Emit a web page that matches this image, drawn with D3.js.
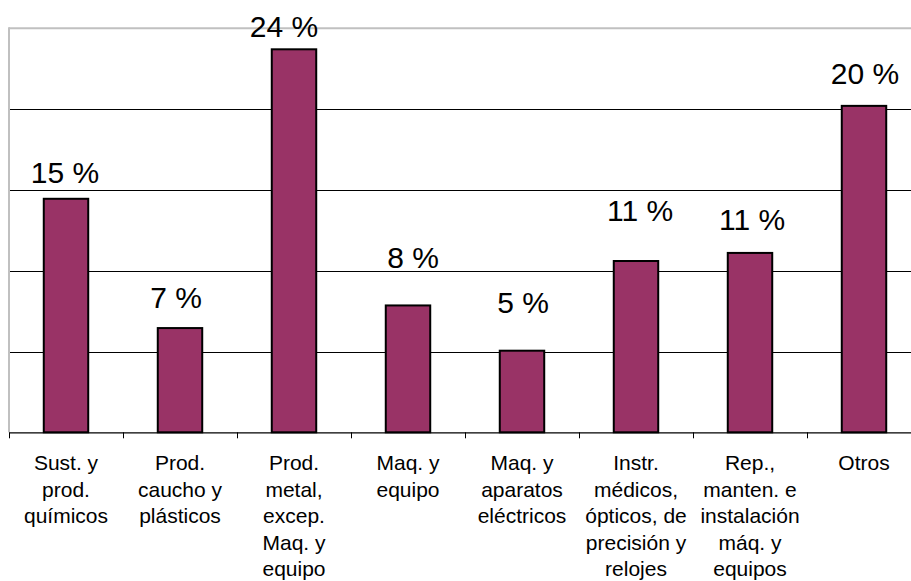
<!DOCTYPE html>
<html>
<head>
<meta charset="utf-8">
<script src="https://cdn.jsdelivr.net/npm/d3@7"></script>
<style>
  html, body { margin: 0; padding: 0; background: #fff; }
  svg { display: block; font-family: "Liberation Sans", Arial, sans-serif; }
</style>
</head>
<body>
<svg id="chart" width="911" height="581"></svg>
<script>
// ---- data ----
const categories = [
  "Sust. y\nprod.\nquímicos",
  "Prod.\ncaucho y\nplásticos",
  "Prod.\nmetal,\nexcep.\nMaq. y\nequipo",
  "Maq. y\nequipo",
  "Maq. y\naparatos\neléctricos",
  "Instr.\nmédicos,\nópticos, de\nprecisión y\nrelojes",
  "Rep.,\nmanten. e\ninstalación\nmáq. y\nequipos",
  "Otros"
];
const values = [14.45, 6.45, 23.7, 7.85, 5.05, 10.6, 11.1, 20.2];
const valueLabels = ["15 %", "7 %", "24 %", "8 %", "5 %", "11 %", "11 %", "20 %"];
const yTicks = [0, 5, 10, 15, 20, 25];

// ---- layout (label nudges, px: dx, gap above bar) ----
const labelDx  = [-1, -4, -10, 5, 1, 4, 2, 1];
const labelGap = [15, 19, 11, 36, 37, 39, 22, 21];

(function () {
const svg = d3.select("#chart");
const mLeft = 9, mRight = 921, mTop = 28.3, mBottom = 432.3;

const x = d3.scaleBand().domain(d3.range(categories.length)).range([mLeft, mRight]).padding(0);
const y = d3.scaleLinear().domain([0, 25]).range([mBottom, mTop]);

// gridlines
svg.append("g").selectAll("line")
  .data(yTicks.filter(t => t > 0 && t < 25))
  .join("line")
  .attr("x1", mLeft + 1).attr("x2", 911)
  .attr("y1", d => Math.round(y(d)) + 0.5).attr("y2", d => Math.round(y(d)) + 0.5)
  .attr("stroke", "#000").attr("stroke-width", 1);

// plot border (top & left, grey)
svg.append("line").attr("x1", mLeft).attr("x2", 911).attr("y1", y(25)).attr("y2", y(25))
  .attr("stroke", "#c0c0c0").attr("stroke-width", 2);
svg.append("line").attr("x1", mLeft).attr("x2", mLeft).attr("y1", y(25) - 1).attr("y2", mBottom)
  .attr("stroke", "#c0c0c0").attr("stroke-width", 2);

// bars
const bw = x.bandwidth() * 0.39;
svg.append("g").selectAll("rect")
  .data(values)
  .join("rect")
  .attr("x", (d, i) => x(i) + x.bandwidth() / 2 - bw / 2)
  .attr("width", bw)
  .attr("y", d => y(d))
  .attr("height", d => mBottom - y(d))
  .attr("fill", "#993366")
  .attr("stroke", "#000")
  .attr("stroke-width", 2);

// x axis
const xAxis = d3.axisBottom(x).tickSize(0).tickFormat(() => "");
const ax = svg.append("g").attr("transform", `translate(0,${mBottom})`).call(xAxis);
ax.select(".domain").attr("stroke", "#000").attr("stroke-width", 1.3);
// tick marks at band boundaries
svg.append("g").selectAll("line")
  .data(d3.range(categories.length + 1))
  .join("line")
  .attr("x1", i => Math.round(mLeft + i * x.step()) + 0.5)
  .attr("x2", i => Math.round(mLeft + i * x.step()) + 0.5)
  .attr("y1", mBottom).attr("y2", mBottom + 6)
  .attr("stroke", "#000").attr("stroke-width", 1);

// category labels
const catG = svg.append("g").selectAll("text")
  .data(categories)
  .join("text")
  .attr("text-anchor", "middle")
  .attr("font-size", 21)
  .attr("fill", "#000");
catG.each(function(d, i) {
  const t = d3.select(this);
  d.split("\n").forEach((line, k) => {
    t.append("tspan")
      .attr("x", x(i) + x.bandwidth() / 2)
      .attr("y", 470 + k * 26.5)
      .text(line);
  });
});

// value labels
svg.append("g").selectAll("text")
  .data(values)
  .join("text")
  .attr("text-anchor", "middle")
  .attr("font-size", 30)
  .attr("fill", "#000")
  .attr("x", (d, i) => x(i) + x.bandwidth() / 2 + labelDx[i])
  .attr("y", (d, i) => y(d) - 1 - labelGap[i])
  .text((d, i) => valueLabels[i]);
})();
</script>
</body>
</html>
